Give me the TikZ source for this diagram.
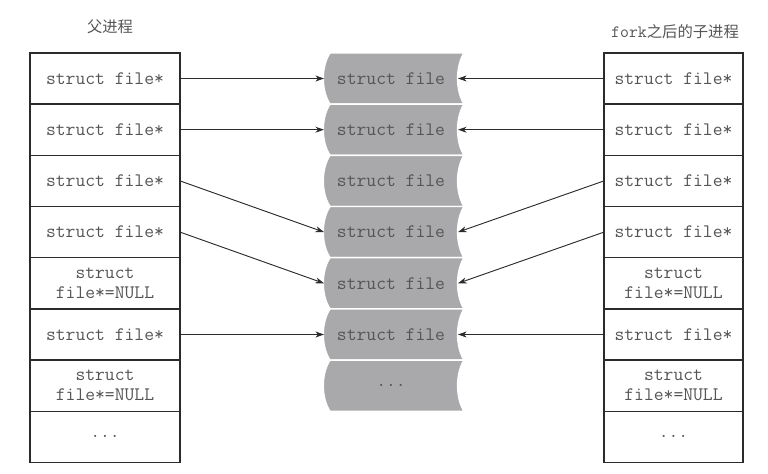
\documentclass[tikz,border=0pt]{standalone}
\usepackage{fontspec}
\newfontfamily\cjk{Noto Sans CJK SC}
\usepackage{tikz}
\usetikzlibrary{positioning}
\usetikzlibrary{arrows.meta}

\definecolor{cellgray}{HTML}{A9A9AC}
\definecolor{txtgray}{HTML}{555555}
\definecolor{linegray}{HTML}{2B2B2B}

\tikzset{
  slot/.style={draw=linegray,line width=0.95pt,outer sep=0pt,inner sep=0pt,
    minimum height=38.4pt,text=txtgray,align=center,
    font=\ttfamily\fontsize{14.3}{15}\selectfont},
  lslot/.style={slot,minimum width=112.5pt},
  rslot/.style={slot,minimum width=104.25pt},
  mslot/.style={slot,draw=none,minimum width=100.5pt},
  ptr/.style={draw=linegray,line width=0.7pt,-{Stealth[length=6.5pt,width=4.5pt]}},
  title/.style={text=txtgray,inner sep=0pt,font=\fontsize{11.5}{13}\selectfont},
  filecell/.pic={
    \path[fill=cellgray,draw=white,line width=1.1pt]
      (-63.5,-25.6) -- (70.5,-25.6)
      .. controls (62,-12) and (62,12) .. (70.5,25.6)
      -- (-63.5,25.6)
      .. controls (-72.5,12) and (-72.5,-12) .. (-63.5,-25.6) -- cycle;
  }
}

\begin{document}
\begin{tikzpicture}[x=0.75pt,y=-0.75pt]
  \useasboundingbox (0,0) rectangle (768,474);

  %titles
  \node[title] (ptitle) at (110,27) {\cjk 父进程};
  \node[title] (ctitle) at (675,32) {{\ttfamily\fontsize{13}{13}\selectfont fork}\cjk 之后的子进程};

  %parent table
  \node[lslot] (l1) at (105,78.5) {struct file*};
  \node[lslot,below=0pt of l1] (l2) {struct file*};
  \node[lslot,below=0pt of l2] (l3) {struct file*};
  \node[lslot,below=0pt of l3] (l4) {struct file*};
  \node[lslot,below=0pt of l4] (l5) {struct\\file*=NULL};
  \node[lslot,below=0pt of l5] (l6) {struct file*};
  \node[lslot,below=0pt of l6] (l7) {struct\\file*=NULL};
  \node[lslot,below=0pt of l7] (l8) {...};

  %child table
  \node[rslot] (r1) at (673.5,78.5) {struct file*};
  \node[rslot,below=0pt of r1] (r2) {struct file*};
  \node[rslot,below=0pt of r2] (r3) {struct file*};
  \node[rslot,below=0pt of r3] (r4) {struct file*};
  \node[rslot,below=0pt of r4] (r5) {struct\\file*=NULL};
  \node[rslot,below=0pt of r5] (r6) {struct file*};
  \node[rslot,below=0pt of r6] (r7) {struct\\file*=NULL};
  \node[rslot,below=0pt of r7] (r8) {...};

  %open file table
  \pic at (393.5,78.5) {filecell};
  \pic at (393.5,129.7) {filecell};
  \pic at (393.5,180.9) {filecell};
  \pic at (393.5,232.1) {filecell};
  \pic at (393.5,283.3) {filecell};
  \pic at (393.5,334.5) {filecell};
  \pic at (393.5,385.7) {filecell};
  \node[mslot] (m1) at (391,78.5) {struct file};
  \node[mslot,below=0pt of m1] (m2) {struct file};
  \node[mslot,below=0pt of m2] (m3) {struct file};
  \node[mslot,below=0pt of m3] (m4) {struct file};
  \node[mslot,below=0pt of m4] (m5) {struct file};
  \node[mslot,below=0pt of m5] (m6) {struct file};
  \node[mslot,below=0pt of m6] (m7) {...};

  %pointers
  \draw[ptr] (l1.east) -- (m1.west);
  \draw[ptr] (l2.east) -- (m2.west);
  \draw[ptr] (l3.east) -- (m4.west);
  \draw[ptr] (l4.east) -- (m5.west);
  \draw[ptr] (l6.east) -- (m6.west);
  \draw[ptr] (r1.west) -- (m1.east);
  \draw[ptr] (r2.west) -- (m2.east);
  \draw[ptr] (r3.west) -- (m4.east);
  \draw[ptr] (r4.west) -- (m5.east);
  \draw[ptr] (r6.west) -- (m6.east);
\end{tikzpicture}
\end{document}
